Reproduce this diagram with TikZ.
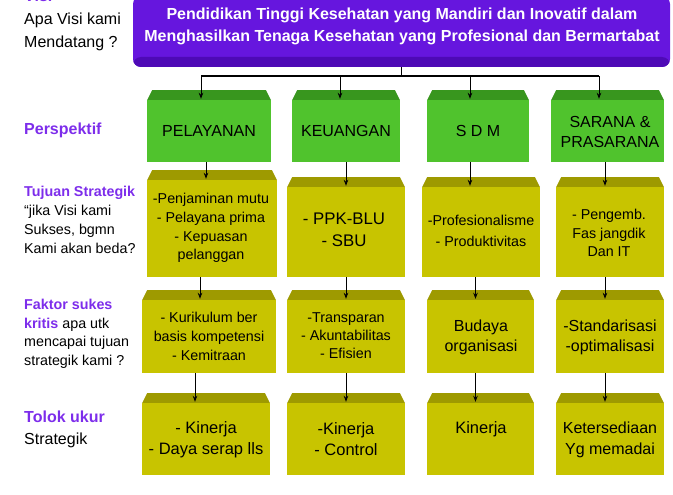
\documentclass[tikz,border=0pt]{standalone}
\usepackage{fontspec}
\setmainfont{Liberation Sans}
\usetikzlibrary{calc, arrows.meta, positioning}

\definecolor{visiungu}{RGB}{102,22,222}
\definecolor{visigelap}{RGB}{78,10,182}
\definecolor{labelungu}{RGB}{125,45,235}
\definecolor{hijau}{RGB}{80,195,45}
\definecolor{hijaugelap}{RGB}{56,150,30}
\definecolor{kuning}{RGB}{200,196,0}
\definecolor{kuninggelap}{RGB}{158,154,0}

\tikzset{
  bevel/.style={path picture={
      \fill[#1] (path picture bounding box.north west) rectangle
        ([yshift=-10pt]path picture bounding box.north east);
      \fill[white] (path picture bounding box.north west) -- ++(5pt,0pt) -- ++(-5pt,-10pt) -- cycle;
      \fill[white] (path picture bounding box.north east) -- ++(-5pt,0pt) -- ++(5pt,-10pt) -- cycle;
  }},
  hijaubox/.style={fill=hijau, bevel=hijaugelap, inner sep=0pt},
  kuningbox/.style={fill=kuning, bevel=kuninggelap, inner sep=0pt},
  isi/.style={align=center, inner sep=0pt, font=\fontsize{#1}{19pt}\selectfont},
  lbl/.style={anchor=west, align=left, inner sep=0pt},
  panah/.style={-{Stealth[length=6pt,width=4.5pt]}, line width=0.8pt, shorten >=-9pt},
  batang/.style={line width=1.8pt}
}

\begin{document}
\begin{tikzpicture}[x=1pt, y=-1pt]
  \useasboundingbox (0,0) rectangle (673,495);

  % visi
  \node[fill=visiungu, rounded corners=8pt, minimum width=537pt, minimum height=71pt,
        path picture={\fill[visigelap] ([yshift=10pt]path picture bounding box.south west)
          rectangle (path picture bounding box.south east);}] (visi) at (401.5,31.5) {};
  \node[align=center, inner sep=0pt, text=white, font=\fontsize{16}{22}\selectfont\bfseries] (visix) at (402,26)
    {Pendidikan Tinggi Kesehatan yang Mandiri dan Inovatif dalam\\Menghasilkan Tenaga Kesehatan yang Profesional dan Bermartabat};

  % label kiri
  \node[lbl, font=\fontsize{16}{23}\selectfont] (kVisi) at (24,20)
    {\textcolor{labelungu}{\bfseries Visi}\\Apa Visi kami\\Mendatang ?};
  \node[lbl, text=labelungu, font=\fontsize{16}{20}\selectfont\bfseries] (kPersp) at (24,130) {Perspektif};
  \node[lbl, font=\fontsize{14.3}{19}\selectfont] (kTujuan) at (24,220)
    {\textcolor{labelungu}{\bfseries Tujuan Strategik}\\“jika Visi kami\\Sukses, bgmn\\Kami akan beda?};
  \node[lbl, font=\fontsize{14.3}{18.5}\selectfont] (kFaktor) at (24,334)
    {\textcolor{labelungu}{\bfseries Faktor sukes}\\\textcolor{labelungu}{\bfseries kritis} apa utk\\mencapai tujuan\\strategik kami ?};
  \node[lbl, font=\fontsize{16}{22}\selectfont] (kTolok) at (24,429)
    {\textcolor{labelungu}{\bfseries Tolok ukur}\\Strategik};

  % perspektif
  \node[hijaubox, minimum width=124pt, minimum height=72pt] (pelG) at (209,126) {};
  \node[hijaubox, minimum width=108pt, minimum height=72pt] (keuG) at (346,126) {};
  \node[hijaubox, minimum width=102pt, minimum height=72pt] (sdmG) at (478,126) {};
  \node[hijaubox, minimum width=113pt, minimum height=72pt] (sarG) at (607.5,126) {};

  % tujuan strategik
  \node[kuningbox, minimum width=130pt, minimum height=107pt] (pelT) at (212,223.5) {};
  \node[kuningbox, minimum width=118pt, minimum height=100pt] (keuT) at (346,227) {};
  \node[kuningbox, minimum width=118pt, minimum height=100pt] (sdmT) at (481,227) {};
  \node[kuningbox, minimum width=108pt, minimum height=100pt] (sarT) at (610,227) {};

  % faktor sukses kritis
  \node[kuningbox, minimum width=134pt, minimum height=83pt] (pelF) at (209,331.5) {};
  \node[kuningbox, minimum width=118pt, minimum height=83pt] (keuF) at (346,331.5) {};
  \node[kuningbox, minimum width=107pt, minimum height=83pt] (sdmF) at (480.5,331.5) {};
  \node[kuningbox, minimum width=108pt, minimum height=83pt] (sarF) at (610,331.5) {};

  % tolok ukur
  \node[kuningbox, minimum width=128pt, minimum height=82pt] (pelU) at (206,434) {};
  \node[kuningbox, minimum width=118pt, minimum height=82pt] (keuU) at (346,434) {};
  \node[kuningbox, minimum width=107pt, minimum height=82pt] (sdmU) at (480.5,434) {};
  \node[kuningbox, minimum width=108pt, minimum height=82pt] (sarU) at (610,434) {};

  % isi kotak
  \node[isi=16] (pelGx) at (209,131) {PELAYANAN};
  \node[isi=16] (keuGx) at (346,131) {KEUANGAN};
  \node[isi=16] (sdmGx) at (478,131) {S D M};
  \node[isi=16, font=\fontsize{16}{20}\selectfont] (sarGx) at (610,132) {SARANA \&\\PRASARANA};

  \node[isi=14.3, font=\fontsize{14.3}{18.7}\selectfont] (pelTx) at (211,228)
    {-Penjaminan mutu\\- Pelayana prima\\- Kepuasan\\pelanggan};
  \node[isi=16.8, font=\fontsize{16.8}{22}\selectfont] (keuTx) at (344,230) {- PPK-BLU\\- SBU};
  \node[isi=14.3, font=\fontsize{14.3}{21}\selectfont] (sdmTx) at (481,230.5) {-Profesionalisme\\- Produktivitas};
  \node[isi=14.3, font=\fontsize{14.3}{18.5}\selectfont] (sarTx) at (609,233) {- Pengemb.\\Fas jangdik\\Dan IT};

  \node[isi=14.3] (pelFx) at (209,336) {- Kurikulum ber\\basis kompetensi\\- Kemitraan};
  \node[isi=14.3, font=\fontsize{14.3}{18}\selectfont] (keuFx) at (346,336) {-Transparan\\- Akuntabilitas\\- Efisien};
  \node[isi=16, font=\fontsize{16}{20}\selectfont] (sdmFx) at (481,337) {Budaya\\organisasi};
  \node[isi=16, font=\fontsize{16}{20}\selectfont] (sarFx) at (610,337) {-Standarisasi\\-optimalisasi};

  \node[isi=16.5, font=\fontsize{16.5}{21}\selectfont] (pelUx) at (206,439.5) {- Kinerja\\- Daya serap lls};
  \node[isi=16.5, font=\fontsize{16.5}{21}\selectfont] (keuUx) at (346,439.5) {-Kinerja\\- Control};
  \node[isi=16.5] (sdmUx) at (481,429) {Kinerja};
  \node[isi=16, font=\fontsize{16}{21}\selectfont] (sarUx) at (610,439.5) {Ketersediaan\\Yg memadai};

  % garis penghubung
  \coordinate (busL) at ($(pelG.north)+(-8,-14)$);
  \coordinate (busR) at ($(sarG.north)+(-8.5,-14)$);
  \draw[line width=0.8pt] (visi.south) -- (visi.south |- busL);
  \draw[batang] (busL) -- (busR);
  \foreach \b/\dx in {pelG/-8, keuG/-6, sdmG/-8, sarG/-8.5}
    \draw[panah] ($(\b.north)+(\dx,-14)$) -- ($(\b.north)+(\dx,0)$);
  \foreach \a/\b/\dx in {pelG/pelT/-6, pelT/pelF/-9, pelF/pelU/-11,
                        keuG/keuT/0, keuT/keuF/0, keuF/keuU/0,
                        sdmG/sdmT/-11, sdmT/sdmF/-5, sdmF/sdmU/-5,
                        sarG/sarT/-5, sarT/sarF/-5, sarF/sarU/-5}
    \draw[panah] ($(\b.north |- \a.south)+(\dx,0)$) -- ($(\b.north)+(\dx,0)$);
\end{tikzpicture}
\end{document}
